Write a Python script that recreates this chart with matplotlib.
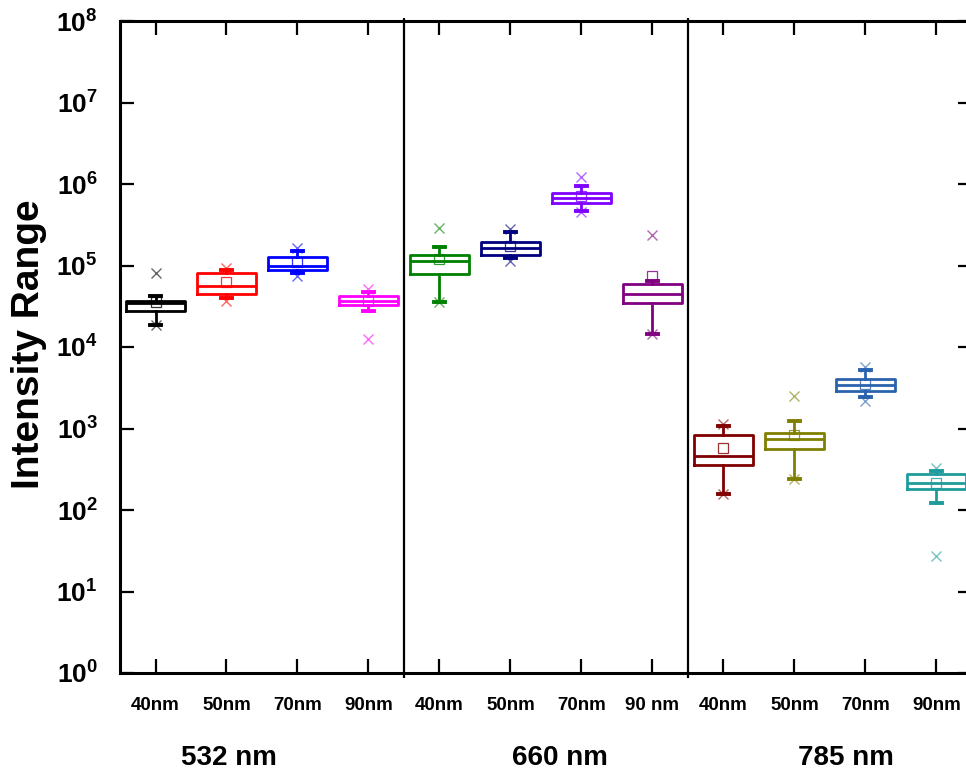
import math
import matplotlib
matplotlib.use("Agg")
import matplotlib.pyplot as plt
from matplotlib.ticker import FixedLocator, FuncFormatter, NullLocator

plt.rcParams['font.family'] = ['Liberation Sans', 'DejaVu Sans']
plt.rcParams['font.weight'] = 'bold'
plt.rcParams['mathtext.fontset'] = 'custom'
plt.rcParams['mathtext.rm'] = 'Liberation Sans:bold'
plt.rcParams['mathtext.bf'] = 'Liberation Sans:bold'
plt.rcParams['mathtext.it'] = 'Liberation Sans:bold'

# data (intensity, log scale)
tick_labels = ['40nm', '50nm', '70nm', '90nm',
               '40nm', '50nm', '70nm', '90 nm',
               '40nm', '50nm', '70nm', '90nm']
groups = ['532 nm', '660 nm', '785 nm']
group_pos = [2.04, 6.69, 10.73]
separators = [4.5, 8.5]

q1 = [27300, 45000, 86900, 32400,
      79100, 136400, 580000, 34900,
      361, 556, 2857, 180]
med = [34200, 55300, 100000, 37200,
       115000, 163000, 668000, 45000,
       466, 752, 3450, 215]
q3 = [37200, 80500, 126500, 41700,
      132700, 193000, 769000, 59700,
      826, 891, 4085, 280]
whis_lo = [18400, 39500, 80500, 27500,
           35500, 124300, 472000, 14300,
           155, 243, 2432, 122]
whis_hi = [41700, 86900, 152700, 47100,
           167500, 261000, 955000, 64200,
           1064, 1225, 5165, 301]
means = [35500, 62400, 108900, 36200,
         120800, 174300, 706000, 73300,
         577, 826, 3550, 215]
extremes = [[82000, 18400], [91900, 37200], [163000, 73300], [51800, 12600],
            [286500, 35500], [281500, 115000], [1208000, 450000], [239900, 14300],
            [1148, 155], [2500, 243], [5670, 2173], [323, 27.4]]

colors = ['#000000', '#FF0000', '#0000FF', '#FF00FF',
          '#008000', '#000080', '#8000FF', '#800080',
          '#800000', '#808000', '#2B62AD', '#1E9C9C']

stats = []
for i in range(len(tick_labels)):
    stats.append({'q1': q1[i], 'med': med[i], 'q3': q3[i],
                  'whislo': whis_lo[i], 'whishi': whis_hi[i],
                  'mean': means[i], 'fliers': extremes[i], 'label': tick_labels[i]})

positions = list(range(1, len(tick_labels) + 1))

fig = plt.figure(figsize=(9.66, 7.78), dpi=100)
ax = fig.add_axes([120 / 966, 105 / 778, 852 / 966, 652 / 778])

bp = ax.bxp(stats, positions=positions, widths=0.82, capwidths=0.16,
            showmeans=True, showfliers=True, patch_artist=False)

for i, c in enumerate(colors):
    bp['boxes'][i].set(color=c, linewidth=2.0)
    bp['medians'][i].set(color=c, linewidth=2.0)
    for k in (2 * i, 2 * i + 1):
        bp['whiskers'][k].set(color=c, linewidth=2.0)
        bp['caps'][k].set(color=c, linewidth=2.8)
    bp['means'][i].set(marker='s', markerfacecolor='none', markeredgecolor=c,
                       markersize=7, markeredgewidth=0.9, alpha=0.8)
    bp['fliers'][i].set(marker='x', markeredgecolor=c, markersize=7,
                        markeredgewidth=1.0, alpha=0.6)

ax.set_yscale('log')
ax.set_ylim(1, 1e8)
ax.set_xlim(0.5, 12.5)

ax.yaxis.set_major_locator(FixedLocator([10 ** k for k in range(9)]))
ax.yaxis.set_minor_locator(NullLocator())
ax.yaxis.set_major_formatter(FuncFormatter(lambda v, p: r'$\mathbf{10^{%d}}$' % round(math.log10(v))))
ax.set_xticks(positions)
ax.set_xticklabels(tick_labels, fontsize=13.5, fontweight='bold')

ax.tick_params(axis='both', which='major', direction='in', length=10, width=1.6,
               top=True, right=True)
ax.tick_params(axis='y', labelsize=19, pad=16)
ax.tick_params(axis='x', pad=17)

for s in ax.spines.values():
    s.set_linewidth(2.2)

ax.vlines(separators, -0.007, 1.005, colors='black', linewidth=1.6,
          transform=ax.get_xaxis_transform(), clip_on=False)

for g, x in zip(groups, group_pos):
    ax.text(x, -0.13, g, transform=ax.get_xaxis_transform(), ha='center', va='center',
            fontsize=20, fontweight='bold')

ax.set_ylabel('Intensity Range', fontsize=28, fontweight='bold')
ax.yaxis.set_label_coords(-(120 - 47) / 852, 1 - (344 - 21) / 652)

fig.savefig('out.png', dpi=100)
